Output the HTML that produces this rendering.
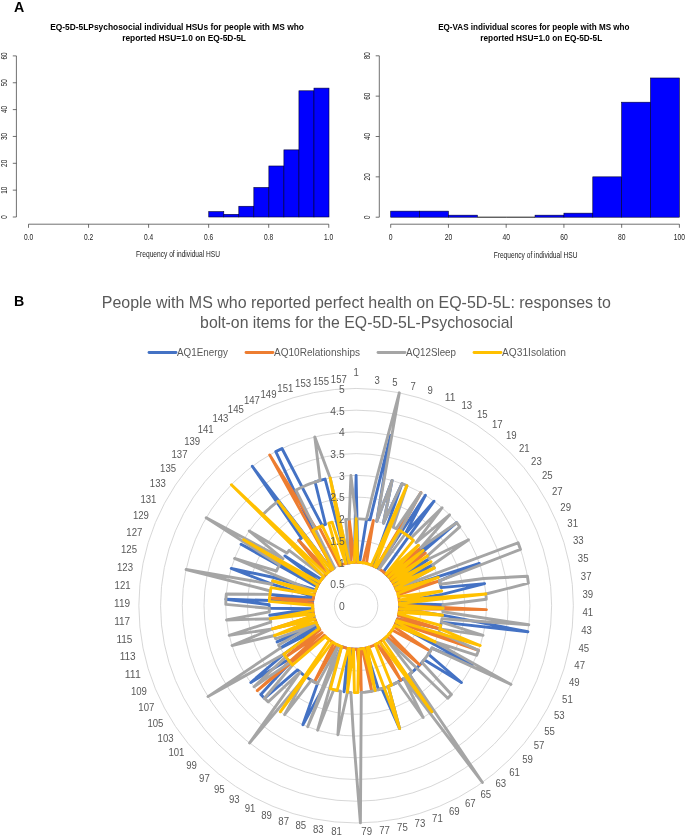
<!DOCTYPE html>
<html lang="en"><head><meta charset="utf-8"><title>Figure</title>
<style>html,body{margin:0;padding:0;background:#fff}body{width:685px;height:836px;overflow:hidden}svg{display:block}text{font-family:"Liberation Sans",Arial,sans-serif}.t{font-weight:bold;font-size:7.3px;fill:#000;text-anchor:middle}.ax{font-size:6.2px;fill:#222}.cal{fill:#595959}</style></head><body>
<svg width="685" height="836" viewBox="0 0 685 836">
<rect width="685" height="836" fill="#fff"/>
<text x="14" y="11.6" font-size="14.2" font-weight="bold" fill="#000">A</text>
<text x="14" y="306" font-size="14.2" font-weight="bold" fill="#000">B</text>
<g>
<text x="50.2" y="30.2" font-size="8.9" fill="#000" font-weight="bold" textLength="253.8" lengthAdjust="spacingAndGlyphs">EQ-5D-5LPsychosocial individual HSUs for people with MS who</text>
<text x="122.2" y="40.9" font-size="8.9" fill="#000" font-weight="bold" textLength="123.8" lengthAdjust="spacingAndGlyphs">reported HSU=1.0 on EQ-5D-5L</text>
<rect x="208.76" y="211.63" width="15.03" height="5.37" fill="#0000ff" stroke="#000033" stroke-width="0.6"/>
<rect x="223.79" y="214.31" width="15.03" height="2.69" fill="#0000ff" stroke="#000033" stroke-width="0.6"/>
<rect x="238.82" y="206.26" width="15.03" height="10.74" fill="#0000ff" stroke="#000033" stroke-width="0.6"/>
<rect x="253.85" y="187.47" width="15.03" height="29.54" fill="#0000ff" stroke="#000033" stroke-width="0.6"/>
<rect x="268.88" y="165.99" width="15.03" height="51.02" fill="#0000ff" stroke="#000033" stroke-width="0.6"/>
<rect x="283.91" y="149.88" width="15.03" height="67.12" fill="#0000ff" stroke="#000033" stroke-width="0.6"/>
<rect x="298.94" y="90.80" width="15.03" height="126.20" fill="#0000ff" stroke="#000033" stroke-width="0.6"/>
<rect x="313.97" y="88.12" width="15.03" height="128.88" fill="#0000ff" stroke="#000033" stroke-width="0.6"/>
<path d="M16.4 217.00V55.90" stroke="#333" stroke-width="0.7" fill="none"/>
<path d="M16.4 217.00h-3.6" stroke="#333" stroke-width="0.7" fill="none"/>
<text font-size="8.3" fill="#1a1a1a" textLength="3.5" lengthAdjust="spacingAndGlyphs" transform="translate(6.8 218.8) rotate(-90)">0</text>
<path d="M16.4 190.15h-3.6" stroke="#333" stroke-width="0.7" fill="none"/>
<text font-size="8.3" fill="#1a1a1a" textLength="7.1" lengthAdjust="spacingAndGlyphs" transform="translate(6.8 193.7) rotate(-90)">10</text>
<path d="M16.4 163.30h-3.6" stroke="#333" stroke-width="0.7" fill="none"/>
<text font-size="8.3" fill="#1a1a1a" textLength="7.1" lengthAdjust="spacingAndGlyphs" transform="translate(6.8 166.9) rotate(-90)">20</text>
<path d="M16.4 136.45h-3.6" stroke="#333" stroke-width="0.7" fill="none"/>
<text font-size="8.3" fill="#1a1a1a" textLength="7.1" lengthAdjust="spacingAndGlyphs" transform="translate(6.8 140.0) rotate(-90)">30</text>
<path d="M16.4 109.60h-3.6" stroke="#333" stroke-width="0.7" fill="none"/>
<text font-size="8.3" fill="#1a1a1a" textLength="7.1" lengthAdjust="spacingAndGlyphs" transform="translate(6.8 113.1) rotate(-90)">40</text>
<path d="M16.4 82.75h-3.6" stroke="#333" stroke-width="0.7" fill="none"/>
<text font-size="8.3" fill="#1a1a1a" textLength="7.1" lengthAdjust="spacingAndGlyphs" transform="translate(6.8 86.3) rotate(-90)">50</text>
<path d="M16.4 55.90h-3.6" stroke="#333" stroke-width="0.7" fill="none"/>
<text font-size="8.3" fill="#1a1a1a" textLength="7.1" lengthAdjust="spacingAndGlyphs" transform="translate(6.8 59.5) rotate(-90)">60</text>
<path d="M28.50 224.2H328.75" stroke="#333" stroke-width="0.7" fill="none"/>
<path d="M28.50 224.2v3.6" stroke="#333" stroke-width="0.7" fill="none"/>
<text x="23.9" y="239.8" font-size="8.3" fill="#1a1a1a" textLength="9.2" lengthAdjust="spacingAndGlyphs">0.0</text>
<path d="M88.55 224.2v3.6" stroke="#333" stroke-width="0.7" fill="none"/>
<text x="84.0" y="239.8" font-size="8.3" fill="#1a1a1a" textLength="9.2" lengthAdjust="spacingAndGlyphs">0.2</text>
<path d="M148.60 224.2v3.6" stroke="#333" stroke-width="0.7" fill="none"/>
<text x="144.0" y="239.8" font-size="8.3" fill="#1a1a1a" textLength="9.2" lengthAdjust="spacingAndGlyphs">0.4</text>
<path d="M208.65 224.2v3.6" stroke="#333" stroke-width="0.7" fill="none"/>
<text x="204.0" y="239.8" font-size="8.3" fill="#1a1a1a" textLength="9.2" lengthAdjust="spacingAndGlyphs">0.6</text>
<path d="M268.70 224.2v3.6" stroke="#333" stroke-width="0.7" fill="none"/>
<text x="264.1" y="239.8" font-size="8.3" fill="#1a1a1a" textLength="9.2" lengthAdjust="spacingAndGlyphs">0.8</text>
<path d="M328.75 224.2v3.6" stroke="#333" stroke-width="0.7" fill="none"/>
<text x="324.1" y="239.8" font-size="8.3" fill="#1a1a1a" textLength="9.2" lengthAdjust="spacingAndGlyphs">1.0</text>
<text x="136.0" y="257.2" font-size="8.3" fill="#1a1a1a" textLength="84.0" lengthAdjust="spacingAndGlyphs">Frequency of individual HSU</text>
</g>
<g>
<text x="438.2" y="30.2" font-size="8.9" fill="#000" font-weight="bold" textLength="191.3" lengthAdjust="spacingAndGlyphs">EQ-VAS individual scores for people with MS who</text>
<text x="480.3" y="40.9" font-size="8.9" fill="#000" font-weight="bold" textLength="121.9" lengthAdjust="spacingAndGlyphs">reported HSU=1.0 on EQ-5D-5L</text>
<rect x="390.70" y="211.15" width="28.87" height="6.05" fill="#0000ff" stroke="#000033" stroke-width="0.6"/>
<rect x="419.57" y="211.15" width="28.87" height="6.05" fill="#0000ff" stroke="#000033" stroke-width="0.6"/>
<rect x="448.44" y="215.18" width="28.87" height="2.02" fill="#0000ff" stroke="#000033" stroke-width="0.6"/>
<line x1="477.31" y1="217.2" x2="506.18" y2="217.2" stroke="#000" stroke-width="0.9"/>
<line x1="506.18" y1="217.2" x2="535.05" y2="217.2" stroke="#000" stroke-width="0.9"/>
<rect x="535.05" y="215.18" width="28.87" height="2.02" fill="#0000ff" stroke="#000033" stroke-width="0.6"/>
<rect x="563.92" y="213.16" width="28.87" height="4.04" fill="#0000ff" stroke="#000033" stroke-width="0.6"/>
<rect x="592.79" y="176.85" width="28.87" height="40.35" fill="#0000ff" stroke="#000033" stroke-width="0.6"/>
<rect x="621.66" y="102.20" width="28.87" height="115.00" fill="#0000ff" stroke="#000033" stroke-width="0.6"/>
<rect x="650.53" y="77.99" width="28.87" height="139.21" fill="#0000ff" stroke="#000033" stroke-width="0.6"/>
<path d="M379.3 217.20V55.80" stroke="#333" stroke-width="0.7" fill="none"/>
<path d="M379.3 217.20h-3.6" stroke="#333" stroke-width="0.7" fill="none"/>
<text font-size="8.3" fill="#1a1a1a" textLength="3.5" lengthAdjust="spacingAndGlyphs" transform="translate(369.7 219.0) rotate(-90)">0</text>
<path d="M379.3 176.85h-3.6" stroke="#333" stroke-width="0.7" fill="none"/>
<text font-size="8.3" fill="#1a1a1a" textLength="7.1" lengthAdjust="spacingAndGlyphs" transform="translate(369.7 180.4) rotate(-90)">20</text>
<path d="M379.3 136.50h-3.6" stroke="#333" stroke-width="0.7" fill="none"/>
<text font-size="8.3" fill="#1a1a1a" textLength="7.1" lengthAdjust="spacingAndGlyphs" transform="translate(369.7 140.1) rotate(-90)">40</text>
<path d="M379.3 96.15h-3.6" stroke="#333" stroke-width="0.7" fill="none"/>
<text font-size="8.3" fill="#1a1a1a" textLength="7.1" lengthAdjust="spacingAndGlyphs" transform="translate(369.7 99.7) rotate(-90)">60</text>
<path d="M379.3 55.80h-3.6" stroke="#333" stroke-width="0.7" fill="none"/>
<text font-size="8.3" fill="#1a1a1a" textLength="7.1" lengthAdjust="spacingAndGlyphs" transform="translate(369.7 59.3) rotate(-90)">80</text>
<path d="M390.70 224.2H679.40" stroke="#333" stroke-width="0.7" fill="none"/>
<path d="M390.70 224.2v3.6" stroke="#333" stroke-width="0.7" fill="none"/>
<text x="388.8" y="239.8" font-size="8.3" fill="#1a1a1a" textLength="3.8" lengthAdjust="spacingAndGlyphs">0</text>
<path d="M448.44 224.2v3.6" stroke="#333" stroke-width="0.7" fill="none"/>
<text x="444.7" y="239.8" font-size="8.3" fill="#1a1a1a" textLength="7.5" lengthAdjust="spacingAndGlyphs">20</text>
<path d="M506.18 224.2v3.6" stroke="#333" stroke-width="0.7" fill="none"/>
<text x="502.4" y="239.8" font-size="8.3" fill="#1a1a1a" textLength="7.5" lengthAdjust="spacingAndGlyphs">40</text>
<path d="M563.92 224.2v3.6" stroke="#333" stroke-width="0.7" fill="none"/>
<text x="560.2" y="239.8" font-size="8.3" fill="#1a1a1a" textLength="7.5" lengthAdjust="spacingAndGlyphs">60</text>
<path d="M621.66 224.2v3.6" stroke="#333" stroke-width="0.7" fill="none"/>
<text x="617.9" y="239.8" font-size="8.3" fill="#1a1a1a" textLength="7.5" lengthAdjust="spacingAndGlyphs">80</text>
<path d="M679.40 224.2v3.6" stroke="#333" stroke-width="0.7" fill="none"/>
<text x="673.8" y="239.8" font-size="8.3" fill="#1a1a1a" textLength="11.2" lengthAdjust="spacingAndGlyphs">100</text>
<text x="493.7" y="257.5" font-size="8.3" fill="#1a1a1a" textLength="83.8" lengthAdjust="spacingAndGlyphs">Frequency of individual HSU</text>
</g>
<g>
<text class="cal" text-anchor="middle" x="356.3" y="307.5" font-size="15.9" textLength="509" lengthAdjust="spacingAndGlyphs">People with MS who reported perfect health on EQ-5D-5L: responses to</text>
<text class="cal" text-anchor="middle" x="356.6" y="327.9" font-size="15.9" textLength="313" lengthAdjust="spacingAndGlyphs">bolt-on items for the EQ-5D-5L-Psychosocial</text>
<path d="M149 352.5H176" stroke="#4472c4" stroke-width="2.8" stroke-linecap="round"/>
<text class="cal" x="177" y="356" font-size="10.2" textLength="51" lengthAdjust="spacingAndGlyphs">AQ1Energy</text>
<path d="M246 352.5H273" stroke="#ed7d31" stroke-width="2.8" stroke-linecap="round"/>
<text class="cal" x="274" y="356" font-size="10.2" textLength="86" lengthAdjust="spacingAndGlyphs">AQ10Relationships</text>
<path d="M378 352.5H405" stroke="#a5a5a5" stroke-width="2.8" stroke-linecap="round"/>
<text class="cal" x="406" y="356" font-size="10.2" textLength="50" lengthAdjust="spacingAndGlyphs">AQ12Sleep</text>
<path d="M474 352.5H501" stroke="#ffc000" stroke-width="2.8" stroke-linecap="round"/>
<text class="cal" x="502" y="356" font-size="10.2" textLength="64" lengthAdjust="spacingAndGlyphs">AQ31Isolation</text>
<circle cx="356.1" cy="605.7" r="21.73" fill="none" stroke="#d2d2d2" stroke-width="0.9"/>
<circle cx="356.1" cy="605.7" r="43.45" fill="none" stroke="#d2d2d2" stroke-width="0.9"/>
<circle cx="356.1" cy="605.7" r="65.18" fill="none" stroke="#d2d2d2" stroke-width="0.9"/>
<circle cx="356.1" cy="605.7" r="86.90" fill="none" stroke="#d2d2d2" stroke-width="0.9"/>
<circle cx="356.1" cy="605.7" r="108.62" fill="none" stroke="#d2d2d2" stroke-width="0.9"/>
<circle cx="356.1" cy="605.7" r="130.35" fill="none" stroke="#d2d2d2" stroke-width="0.9"/>
<circle cx="356.1" cy="605.7" r="152.08" fill="none" stroke="#d2d2d2" stroke-width="0.9"/>
<circle cx="356.1" cy="605.7" r="173.80" fill="none" stroke="#d2d2d2" stroke-width="0.9"/>
<circle cx="356.1" cy="605.7" r="195.53" fill="none" stroke="#d2d2d2" stroke-width="0.9"/>
<circle cx="356.1" cy="605.7" r="217.25" fill="none" stroke="#d2d2d2" stroke-width="0.9"/>
<path d="M356.1 475.4L357.8 562.3L359.6 562.4L366.5 519.4L370.0 519.9L390.6 435.4L376.8 521.3L392.1 480.4L383.4 523.2L402.0 483.7L373.0 565.7L374.6 566.4L376.2 567.2L377.7 568.0L425.4 495.3L405.2 534.0L434.0 501.2L383.4 571.9L384.8 573.0L386.0 574.2L387.3 575.4L388.5 576.7L456.6 522.7L390.7 579.4L391.7 580.8L429.2 558.8L393.6 583.7L432.8 564.8L395.2 586.8L395.9 588.4L396.6 590.0L479.4 563.4L439.4 580.8L440.3 584.2L441.1 587.6L484.6 583.6L442.3 594.4L399.4 601.8L399.5 603.5L443.0 604.8L399.5 607.0L399.4 608.7L442.5 615.2L527.9 631.7L441.4 622.1L440.7 625.5L439.8 628.9L397.5 619.0L396.9 620.6L396.3 622.2L395.6 623.8L472.3 664.8L431.9 648.1L430.2 651.1L428.3 654.1L461.4 682.5L424.2 659.7L422.0 662.4L419.7 665.0L417.2 667.5L414.7 669.9L412.1 672.1L409.4 674.3L431.9 711.8L403.7 678.4L400.8 680.2L397.8 682.0L394.7 683.6L391.6 685.0L388.3 686.4L399.6 728.6L381.8 688.7L378.5 689.7L365.6 648.1L363.9 648.4L362.2 648.7L360.4 648.9L358.7 649.1L357.0 649.1L355.2 649.1L353.5 649.1L351.8 648.9L344.0 691.7L348.3 648.4L346.6 648.1L344.9 647.7L343.3 647.2L341.6 646.7L323.9 686.4L302.9 724.7L317.5 683.6L314.4 682.0L311.4 680.2L308.5 678.4L305.6 676.4L302.8 674.3L300.1 672.1L297.5 669.9L264.4 698.3L260.8 694.6L290.2 662.4L288.0 659.7L250.8 682.5L283.9 654.1L319.1 628.4L280.3 648.1L317.4 625.4L277.1 641.9L315.9 622.2L315.3 620.6L314.7 619.0L314.2 617.3L313.8 615.6L313.4 613.9L313.1 612.2L269.7 615.2L312.8 608.7L269.2 608.3L269.2 604.8L225.9 599.2L312.8 601.8L269.9 594.4L313.3 598.3L313.6 596.6L271.9 584.2L231.2 568.4L273.9 577.5L315.6 590.0L316.3 588.4L317.0 586.8L241.1 544.3L318.6 583.7L319.5 582.2L284.9 555.9L321.5 579.4L322.6 578.0L323.7 576.7L324.9 575.4L326.2 574.2L298.8 540.4L301.4 538.1L252.3 466.3L331.6 569.8L333.0 568.9L312.9 530.3L275.8 451.6L282.0 448.5L322.2 525.7L325.5 524.4L315.1 482.0L320.1 480.4L325.1 479.1L347.5 563.1L349.2 562.8L350.9 562.6L352.6 562.4L354.4 562.3Z" fill="none" stroke="#4472c4" stroke-width="2.9" stroke-linejoin="round"/>
<path d="M356.1 562.2L357.8 562.3L359.6 562.4L361.3 562.6L363.0 562.8L373.4 520.5L366.4 563.5L368.1 563.9L369.8 564.5L371.4 565.0L373.0 565.7L374.6 566.4L376.2 567.2L420.9 492.6L379.2 568.9L380.6 569.8L382.1 570.9L383.4 571.9L384.8 573.0L386.0 574.2L387.3 575.4L420.8 547.7L389.6 578.0L425.3 553.1L391.7 580.8L392.7 582.2L393.6 583.7L394.4 585.2L395.2 586.8L395.9 588.4L396.6 590.0L397.2 591.6L439.4 580.8L398.2 594.9L398.6 596.6L398.9 598.3L399.2 600.1L399.4 601.8L399.5 603.5L399.5 605.3L486.4 609.6L399.4 608.7L399.3 610.5L399.1 612.2L398.8 613.9L398.4 615.6L439.8 628.9L397.5 619.0L478.5 650.4L396.3 622.2L395.6 623.8L394.8 625.4L394.0 626.9L430.2 651.1L392.2 629.9L391.2 631.3L390.1 632.7L389.0 634.0L419.7 665.0L386.7 636.6L385.4 637.8L384.1 638.9L382.8 640.0L381.4 641.1L379.9 642.0L400.8 680.2L376.9 643.8L375.4 644.6L373.8 645.4L372.2 646.0L370.6 646.7L368.9 647.2L367.3 647.7L365.6 648.1L371.7 691.2L362.2 648.7L360.4 648.9L361.3 692.4L357.0 649.1L355.2 649.1L353.5 649.1L351.8 648.9L350.0 648.7L348.3 648.4L346.6 648.1L344.9 647.7L343.3 647.2L341.6 646.7L340.0 646.0L338.4 645.4L336.8 644.6L314.4 682.0L333.8 643.0L332.3 642.0L330.8 641.1L329.4 640.0L328.1 638.9L326.8 637.8L325.5 636.6L324.3 635.3L257.3 690.7L322.1 632.7L285.9 656.9L320.0 629.9L319.1 628.4L318.2 626.9L317.4 625.4L316.6 623.8L315.9 622.2L315.3 620.6L314.7 619.0L272.4 628.9L313.8 615.6L313.4 613.9L313.1 612.2L312.9 610.5L312.8 608.7L312.7 607.0L312.7 605.3L312.7 603.5L269.6 597.9L313.0 600.1L313.3 598.3L313.6 596.6L314.0 594.9L314.5 593.3L315.0 591.6L315.6 590.0L316.3 588.4L317.0 586.8L317.8 585.2L318.6 583.7L319.5 582.2L320.5 580.8L321.5 579.4L322.6 578.0L323.7 576.7L324.9 575.4L326.2 574.2L298.8 540.4L328.8 571.9L330.1 570.9L331.6 569.8L333.0 568.9L269.7 454.9L316.0 528.6L319.1 527.1L339.2 565.7L340.8 565.0L342.4 564.5L344.1 563.9L345.8 563.5L347.5 563.1L349.2 562.8L350.9 562.6L349.2 519.1L354.4 562.3Z" fill="none" stroke="#ed7d31" stroke-width="2.9" stroke-linejoin="round"/>
<path d="M356.1 518.8L359.6 518.9L363.0 519.1L366.5 519.4L376.9 477.0L399.3 392.8L376.8 521.3L392.1 480.4L383.4 523.2L402.0 483.7L406.9 485.7L393.1 527.1L396.2 528.6L420.9 492.6L379.2 568.9L405.2 534.0L408.0 536.0L410.8 538.1L442.1 507.7L416.0 542.7L449.6 514.9L420.8 547.7L456.6 522.7L459.8 526.8L427.3 555.9L429.2 558.8L468.5 539.8L432.8 564.8L434.3 567.9L395.9 588.4L518.1 542.8L520.5 549.4L439.4 580.8L440.3 584.2L483.6 578.5L527.4 576.3L528.4 583.2L485.9 594.0L486.3 599.2L443.0 604.8L443.0 608.3L442.8 611.8L528.8 624.8L442.0 618.7L441.4 622.1L483.0 635.4L439.8 628.9L438.9 632.2L478.5 650.4L476.7 655.3L435.1 641.9L511.0 684.4L431.9 648.1L430.2 651.1L428.3 654.1L426.3 656.9L424.2 659.7L422.0 662.4L451.4 694.6L447.8 698.3L385.4 637.8L412.1 672.1L409.4 674.3L482.4 782.5L403.7 678.4L423.1 717.5L397.8 682.0L394.7 683.6L391.6 685.0L388.3 686.4L385.1 687.6L381.8 688.7L378.5 689.7L375.1 690.5L371.7 691.2L368.2 691.7L364.8 692.2L361.3 692.4L360.4 822.9L353.5 736.0L350.9 692.4L347.4 692.2L337.9 734.8L340.5 691.2L337.1 690.5L333.7 689.7L317.6 730.2L341.6 646.7L307.7 726.7L338.4 645.4L317.5 683.6L314.4 682.0L311.4 680.2L284.6 714.7L305.6 676.4L249.5 743.0L300.1 672.1L268.2 701.9L264.4 698.3L292.5 665.0L290.2 662.4L254.0 686.7L285.9 656.9L283.9 654.1L208.0 696.6L280.3 648.1L278.6 645.1L316.6 623.8L275.7 638.8L274.5 635.5L232.0 645.5L272.4 628.9L229.2 635.4L270.8 622.1L270.2 618.7L226.5 620.0L269.4 611.8L269.2 608.3L225.8 604.4L225.9 599.2L226.3 594.0L269.9 594.4L270.5 591.0L186.1 569.5L271.9 584.2L272.8 580.8L315.0 591.6L234.6 558.5L276.4 571.0L277.9 567.9L279.4 564.8L206.2 517.8L283.0 558.8L249.3 531.0L286.9 553.1L289.1 550.4L323.7 576.7L262.6 514.9L266.3 511.3L270.1 507.7L274.1 504.4L278.2 501.2L331.6 569.8L333.0 568.9L334.5 568.0L295.9 490.1L300.6 487.8L305.3 485.7L310.2 483.7L315.1 482.0L320.1 480.4L314.8 436.9L330.2 478.0L349.2 562.8L345.7 519.4L349.2 519.1L350.9 475.5Z" fill="none" stroke="#a5a5a5" stroke-width="2.9" stroke-linejoin="round"/>
<path d="M356.1 518.8L357.8 562.3L359.6 562.4L361.3 562.6L363.0 562.8L364.7 563.1L366.4 563.5L368.1 563.9L369.8 564.5L371.4 565.0L406.9 485.7L374.6 566.4L376.2 567.2L399.3 530.3L402.3 532.1L405.2 534.0L408.0 536.0L410.8 538.1L413.4 540.4L386.0 574.2L418.5 545.2L388.5 576.7L423.1 550.4L390.7 579.4L427.3 555.9L392.7 582.2L431.1 561.7L394.4 585.2L434.3 567.9L395.9 588.4L396.6 590.0L438.3 577.5L397.7 593.3L398.2 594.9L398.6 596.6L441.7 591.0L399.2 600.1L485.9 594.0L399.5 603.5L399.5 605.3L443.0 608.3L399.4 608.7L442.5 615.2L399.1 612.2L398.8 613.9L440.7 625.5L439.8 628.9L480.2 645.5L396.9 620.6L396.3 622.2L435.1 641.9L394.8 625.4L394.0 626.9L393.1 628.4L392.2 629.9L391.2 631.3L390.1 632.7L389.0 634.0L387.9 635.3L386.7 636.6L385.4 637.8L384.1 638.9L382.8 640.0L431.9 711.8L379.9 642.0L378.4 643.0L376.9 643.8L375.4 644.6L391.6 685.0L388.3 686.4L399.6 728.6L368.9 647.2L367.3 647.7L375.1 690.5L363.9 648.4L362.2 648.7L360.4 648.9L358.7 649.1L357.8 692.6L354.4 692.6L353.5 649.1L347.4 692.2L350.0 648.7L348.3 648.4L337.1 690.5L333.7 689.7L330.4 688.7L341.6 646.7L340.0 646.0L338.4 645.4L336.8 644.6L335.3 643.8L333.8 643.0L332.3 642.0L280.3 711.8L329.4 640.0L328.1 638.9L326.8 637.8L325.5 636.6L292.5 665.0L290.2 662.4L288.0 659.7L285.9 656.9L283.9 654.1L319.1 628.4L318.2 626.9L317.4 625.4L316.6 623.8L315.9 622.2L274.5 635.5L314.7 619.0L272.4 628.9L313.8 615.6L313.4 613.9L270.2 618.7L312.9 610.5L312.8 608.7L312.7 607.0L312.7 605.3L269.3 601.4L269.6 597.9L269.9 594.4L270.5 591.0L271.1 587.6L314.0 594.9L272.8 580.8L315.0 591.6L315.6 590.0L316.3 588.4L317.0 586.8L317.8 585.2L243.7 539.8L319.5 582.2L320.5 580.8L321.5 579.4L322.6 578.0L323.7 576.7L231.4 484.7L326.2 574.2L327.4 573.0L328.8 571.9L278.2 501.2L331.6 569.8L333.0 568.9L312.9 530.3L316.0 528.6L319.1 527.1L322.2 525.7L340.8 565.0L328.8 523.2L332.1 522.2L345.8 563.5L330.2 478.0L349.2 562.8L350.9 562.6L352.6 562.4L354.4 562.3Z" fill="none" stroke="#ffc000" stroke-width="2.9" stroke-linejoin="round"/>
<text class="cal" text-anchor="end" x="344.7" y="610.0" font-size="10.3">0</text>
<text class="cal" text-anchor="end" x="344.7" y="588.3" font-size="10.3">0.5</text>
<text class="cal" text-anchor="end" x="344.7" y="566.5" font-size="10.3">1</text>
<text class="cal" text-anchor="end" x="344.7" y="544.8" font-size="10.3">1.5</text>
<text class="cal" text-anchor="end" x="344.7" y="523.1" font-size="10.3">2</text>
<text class="cal" text-anchor="end" x="344.7" y="501.4" font-size="10.3">2.5</text>
<text class="cal" text-anchor="end" x="344.7" y="479.7" font-size="10.3">3</text>
<text class="cal" text-anchor="end" x="344.7" y="457.9" font-size="10.3">3.5</text>
<text class="cal" text-anchor="end" x="344.7" y="436.2" font-size="10.3">4</text>
<text class="cal" text-anchor="end" x="344.7" y="414.5" font-size="10.3">4.5</text>
<text class="cal" text-anchor="end" x="344.7" y="392.8" font-size="10.3">5</text>
<text class="cal" x="353.4" y="375.6" font-size="10.1" textLength="5.3" lengthAdjust="spacingAndGlyphs">1</text>
<text class="cal" x="374.4" y="384.0" font-size="10.1" textLength="5.3" lengthAdjust="spacingAndGlyphs">3</text>
<text class="cal" x="392.2" y="385.9" font-size="10.1" textLength="5.3" lengthAdjust="spacingAndGlyphs">5</text>
<text class="cal" x="410.4" y="389.6" font-size="10.1" textLength="5.3" lengthAdjust="spacingAndGlyphs">7</text>
<text class="cal" x="427.5" y="394.3" font-size="10.1" textLength="5.3" lengthAdjust="spacingAndGlyphs">9</text>
<text class="cal" x="444.7" y="400.8" font-size="10.1" textLength="10.7" lengthAdjust="spacingAndGlyphs">11</text>
<text class="cal" x="461.5" y="408.5" font-size="10.1" textLength="10.7" lengthAdjust="spacingAndGlyphs">13</text>
<text class="cal" x="477.0" y="417.5" font-size="10.1" textLength="10.7" lengthAdjust="spacingAndGlyphs">15</text>
<text class="cal" x="491.9" y="427.9" font-size="10.1" textLength="10.7" lengthAdjust="spacingAndGlyphs">17</text>
<text class="cal" x="506.0" y="439.2" font-size="10.1" textLength="10.7" lengthAdjust="spacingAndGlyphs">19</text>
<text class="cal" x="518.9" y="451.8" font-size="10.1" textLength="10.7" lengthAdjust="spacingAndGlyphs">21</text>
<text class="cal" x="531.1" y="464.9" font-size="10.1" textLength="10.7" lengthAdjust="spacingAndGlyphs">23</text>
<text class="cal" x="542.0" y="479.4" font-size="10.1" textLength="10.7" lengthAdjust="spacingAndGlyphs">25</text>
<text class="cal" x="552.0" y="494.8" font-size="10.1" textLength="10.7" lengthAdjust="spacingAndGlyphs">27</text>
<text class="cal" x="560.3" y="510.7" font-size="10.1" textLength="10.7" lengthAdjust="spacingAndGlyphs">29</text>
<text class="cal" x="567.3" y="527.2" font-size="10.1" textLength="10.7" lengthAdjust="spacingAndGlyphs">31</text>
<text class="cal" x="573.0" y="544.2" font-size="10.1" textLength="10.7" lengthAdjust="spacingAndGlyphs">33</text>
<text class="cal" x="577.8" y="561.6" font-size="10.1" textLength="10.7" lengthAdjust="spacingAndGlyphs">35</text>
<text class="cal" x="580.8" y="579.6" font-size="10.1" textLength="10.7" lengthAdjust="spacingAndGlyphs">37</text>
<text class="cal" x="582.4" y="597.8" font-size="10.1" textLength="10.7" lengthAdjust="spacingAndGlyphs">39</text>
<text class="cal" x="582.4" y="615.9" font-size="10.1" textLength="10.7" lengthAdjust="spacingAndGlyphs">41</text>
<text class="cal" x="581.2" y="633.7" font-size="10.1" textLength="10.7" lengthAdjust="spacingAndGlyphs">43</text>
<text class="cal" x="578.5" y="651.7" font-size="10.1" textLength="10.7" lengthAdjust="spacingAndGlyphs">45</text>
<text class="cal" x="574.3" y="669.3" font-size="10.1" textLength="10.7" lengthAdjust="spacingAndGlyphs">47</text>
<text class="cal" x="569.0" y="686.4" font-size="10.1" textLength="10.7" lengthAdjust="spacingAndGlyphs">49</text>
<text class="cal" x="562.1" y="703.2" font-size="10.1" textLength="10.7" lengthAdjust="spacingAndGlyphs">51</text>
<text class="cal" x="554.0" y="719.0" font-size="10.1" textLength="10.7" lengthAdjust="spacingAndGlyphs">53</text>
<text class="cal" x="544.2" y="734.8" font-size="10.1" textLength="10.7" lengthAdjust="spacingAndGlyphs">55</text>
<text class="cal" x="533.7" y="749.1" font-size="10.1" textLength="10.7" lengthAdjust="spacingAndGlyphs">57</text>
<text class="cal" x="522.2" y="763.1" font-size="10.1" textLength="10.7" lengthAdjust="spacingAndGlyphs">59</text>
<text class="cal" x="509.2" y="775.8" font-size="10.1" textLength="10.7" lengthAdjust="spacingAndGlyphs">61</text>
<text class="cal" x="495.5" y="787.3" font-size="10.1" textLength="10.7" lengthAdjust="spacingAndGlyphs">63</text>
<text class="cal" x="480.5" y="797.8" font-size="10.1" textLength="10.7" lengthAdjust="spacingAndGlyphs">65</text>
<text class="cal" x="465.0" y="806.9" font-size="10.1" textLength="10.7" lengthAdjust="spacingAndGlyphs">67</text>
<text class="cal" x="448.9" y="815.0" font-size="10.1" textLength="10.7" lengthAdjust="spacingAndGlyphs">69</text>
<text class="cal" x="432.1" y="821.7" font-size="10.1" textLength="10.7" lengthAdjust="spacingAndGlyphs">71</text>
<text class="cal" x="414.6" y="826.9" font-size="10.1" textLength="10.7" lengthAdjust="spacingAndGlyphs">73</text>
<text class="cal" x="397.1" y="831.1" font-size="10.1" textLength="10.7" lengthAdjust="spacingAndGlyphs">75</text>
<text class="cal" x="379.2" y="833.9" font-size="10.1" textLength="10.7" lengthAdjust="spacingAndGlyphs">77</text>
<text class="cal" x="361.3" y="834.6" font-size="10.1" textLength="10.7" lengthAdjust="spacingAndGlyphs">79</text>
<text class="cal" x="331.2" y="834.6" font-size="10.1" textLength="10.7" lengthAdjust="spacingAndGlyphs">81</text>
<text class="cal" x="313.0" y="832.5" font-size="10.1" textLength="10.7" lengthAdjust="spacingAndGlyphs">83</text>
<text class="cal" x="295.5" y="829.4" font-size="10.1" textLength="10.7" lengthAdjust="spacingAndGlyphs">85</text>
<text class="cal" x="278.3" y="825.2" font-size="10.1" textLength="10.7" lengthAdjust="spacingAndGlyphs">87</text>
<text class="cal" x="261.2" y="818.8" font-size="10.1" textLength="10.7" lengthAdjust="spacingAndGlyphs">89</text>
<text class="cal" x="244.7" y="811.8" font-size="10.1" textLength="10.7" lengthAdjust="spacingAndGlyphs">91</text>
<text class="cal" x="228.9" y="803.1" font-size="10.1" textLength="10.7" lengthAdjust="spacingAndGlyphs">93</text>
<text class="cal" x="213.9" y="793.3" font-size="10.1" textLength="10.7" lengthAdjust="spacingAndGlyphs">95</text>
<text class="cal" x="199.1" y="781.7" font-size="10.1" textLength="10.7" lengthAdjust="spacingAndGlyphs">97</text>
<text class="cal" x="186.2" y="769.4" font-size="10.1" textLength="10.7" lengthAdjust="spacingAndGlyphs">99</text>
<text class="cal" x="168.4" y="756.1" font-size="10.1" textLength="16.0" lengthAdjust="spacingAndGlyphs">101</text>
<text class="cal" x="157.6" y="742.1" font-size="10.1" textLength="16.0" lengthAdjust="spacingAndGlyphs">103</text>
<text class="cal" x="147.4" y="727.0" font-size="10.1" textLength="16.0" lengthAdjust="spacingAndGlyphs">105</text>
<text class="cal" x="138.3" y="710.9" font-size="10.1" textLength="16.0" lengthAdjust="spacingAndGlyphs">107</text>
<text class="cal" x="130.9" y="694.8" font-size="10.1" textLength="16.0" lengthAdjust="spacingAndGlyphs">109</text>
<text class="cal" x="124.8" y="677.5" font-size="10.1" textLength="16.0" lengthAdjust="spacingAndGlyphs">111</text>
<text class="cal" x="119.7" y="660.0" font-size="10.1" textLength="16.0" lengthAdjust="spacingAndGlyphs">113</text>
<text class="cal" x="116.4" y="642.8" font-size="10.1" textLength="16.0" lengthAdjust="spacingAndGlyphs">115</text>
<text class="cal" x="114.2" y="624.9" font-size="10.1" textLength="16.0" lengthAdjust="spacingAndGlyphs">117</text>
<text class="cal" x="114.1" y="606.5" font-size="10.1" textLength="16.0" lengthAdjust="spacingAndGlyphs">119</text>
<text class="cal" x="114.6" y="588.6" font-size="10.1" textLength="16.0" lengthAdjust="spacingAndGlyphs">121</text>
<text class="cal" x="117.0" y="570.6" font-size="10.1" textLength="16.0" lengthAdjust="spacingAndGlyphs">123</text>
<text class="cal" x="121.0" y="553.0" font-size="10.1" textLength="16.0" lengthAdjust="spacingAndGlyphs">125</text>
<text class="cal" x="126.3" y="535.6" font-size="10.1" textLength="16.0" lengthAdjust="spacingAndGlyphs">127</text>
<text class="cal" x="132.9" y="519.1" font-size="10.1" textLength="16.0" lengthAdjust="spacingAndGlyphs">129</text>
<text class="cal" x="140.4" y="502.7" font-size="10.1" textLength="16.0" lengthAdjust="spacingAndGlyphs">131</text>
<text class="cal" x="149.8" y="487.0" font-size="10.1" textLength="16.0" lengthAdjust="spacingAndGlyphs">133</text>
<text class="cal" x="160.1" y="472.3" font-size="10.1" textLength="16.0" lengthAdjust="spacingAndGlyphs">135</text>
<text class="cal" x="171.5" y="457.9" font-size="10.1" textLength="16.0" lengthAdjust="spacingAndGlyphs">137</text>
<text class="cal" x="184.2" y="445.1" font-size="10.1" textLength="16.0" lengthAdjust="spacingAndGlyphs">139</text>
<text class="cal" x="197.7" y="433.1" font-size="10.1" textLength="16.0" lengthAdjust="spacingAndGlyphs">141</text>
<text class="cal" x="212.4" y="422.4" font-size="10.1" textLength="16.0" lengthAdjust="spacingAndGlyphs">143</text>
<text class="cal" x="227.8" y="412.5" font-size="10.1" textLength="16.0" lengthAdjust="spacingAndGlyphs">145</text>
<text class="cal" x="243.9" y="404.3" font-size="10.1" textLength="16.0" lengthAdjust="spacingAndGlyphs">147</text>
<text class="cal" x="260.5" y="397.6" font-size="10.1" textLength="16.0" lengthAdjust="spacingAndGlyphs">149</text>
<text class="cal" x="277.3" y="391.5" font-size="10.1" textLength="16.0" lengthAdjust="spacingAndGlyphs">151</text>
<text class="cal" x="295.1" y="387.3" font-size="10.1" textLength="16.0" lengthAdjust="spacingAndGlyphs">153</text>
<text class="cal" x="313.0" y="384.5" font-size="10.1" textLength="16.0" lengthAdjust="spacingAndGlyphs">155</text>
<text class="cal" x="330.8" y="383.3" font-size="10.1" textLength="16.0" lengthAdjust="spacingAndGlyphs">157</text>
</g>
</svg></body></html>
